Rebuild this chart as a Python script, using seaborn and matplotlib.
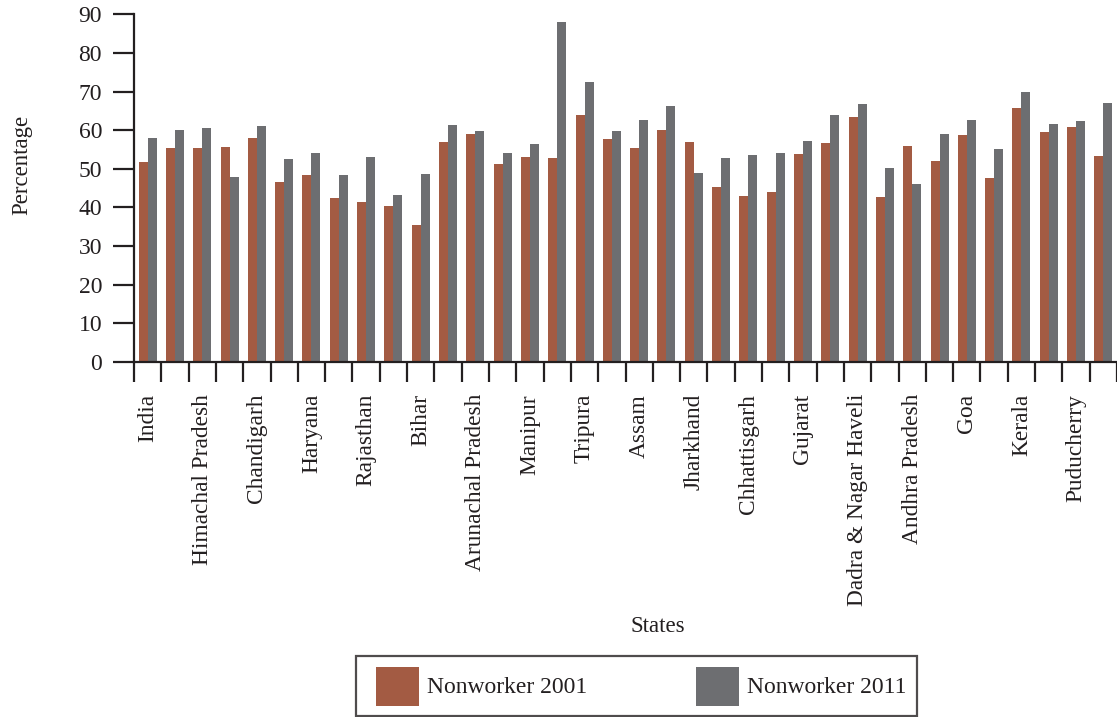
import numpy as np
import pandas as pd
import matplotlib
matplotlib.use("Agg")
import matplotlib.pyplot as plt
from matplotlib.patches import Patch, Rectangle
from matplotlib.legend_handler import HandlerPatch
import seaborn as sns

# States in census order
states = [
    "India", "Jammu & Kashmir", "Himachal Pradesh", "Punjab", "Chandigarh",
    "Uttarakhand", "Haryana", "NCT of Delhi", "Rajasthan", "Uttar Pradesh",
    "Bihar", "Sikkim", "Arunachal Pradesh", "Nagaland", "Manipur", "Mizoram",
    "Tripura", "Meghalaya", "Assam", "West Bengal", "Jharkhand", "Odisha",
    "Chhattisgarh", "Madhya Pradesh", "Gujarat", "Daman & Diu",
    "Dadra & Nagar Haveli", "Maharashtra", "Andhra Pradesh", "Karnataka",
    "Goa", "Lakshadweep", "Kerala", "Tamil Nadu", "Puducherry",
    "Andaman & Nicobar Islands",
]

# Share of non-workers in the population (%)
nonworker_2001 = [
    51.7, 55.4, 55.4, 55.6, 58.0, 46.6, 48.4, 42.4, 41.4, 40.3,
    35.4, 56.9, 59.0, 51.2, 53.0, 52.8, 63.9, 57.7, 55.4, 60.0,
    56.9, 45.3, 42.9, 44.0, 53.8, 56.7, 63.4, 42.7, 55.9, 52.0,
    58.7, 47.6, 65.7, 59.5, 60.8, 53.3,
]
nonworker_2011 = [
    58.0, 60.0, 60.5, 47.8, 61.1, 52.5, 54.1, 48.4, 53.0, 43.2,
    48.6, 61.3, 59.8, 54.1, 56.4, 88.0, 72.5, 59.8, 62.6, 66.2,
    48.9, 52.8, 53.5, 54.1, 57.2, 63.9, 66.8, 50.2, 46.0, 59.0,
    62.6, 55.1, 69.9, 61.6, 62.3, 67.0,
]

series_names = ["Nonworker 2001", "Nonworker 2011"]
y_ticks = list(range(0, 91, 10))

df = pd.DataFrame({
    "State": states * 2,
    "Percentage": nonworker_2001 + nonworker_2011,
    "Series": [series_names[0]] * len(states) + [series_names[1]] * len(states),
})

ORANGE = "#A35B43"
GREY = "#6D6E71"
INK = "#231F20"

sns.set_theme(style="white")
plt.rcParams["font.family"] = ["Liberation Serif", "DejaVu Serif"]
plt.rcParams["text.color"] = INK

W, H = 1117, 717
fig = plt.figure(figsize=(W / 100, H / 100), dpi=100)
ax = fig.add_axes([134 / W, 1 - 362 / H, (W - 134) / W, (362 - 14.3) / H])

sns.barplot(
    data=df, x="State", y="Percentage", hue="Series",
    order=states, hue_order=series_names,
    palette=[ORANGE, GREY], saturation=1, width=0.66,
    linewidth=0, edgecolor="none",
    legend=False, ax=ax,
)

ax.set_xlim(-0.5, len(states) - 0.5)
ax.set_ylim(0, 90)
ax.set_yticks(y_ticks)
ax.set_yticklabels([str(v) for v in y_ticks], fontsize=17, color=INK)

# labels under every other group, boundary ticks between groups
label_pos = list(range(0, len(states), 2))
ax.set_xticks(label_pos)
ax.set_xticklabels([states[i] for i in label_pos], rotation=90,
                   fontsize=16.8, color=INK)
ax.set_xticks(np.arange(-0.5, len(states), 1.0), minor=True)
ax.tick_params(axis="x", which="major", length=0, pad=23)
ax.tick_params(axis="x", which="minor", length=14.5, width=1.6,
               color=INK, direction="out", bottom=True)
ax.tick_params(axis="y", which="major", length=15, width=1.6,
               color=INK, direction="out", left=True, pad=8)

for side in ("top", "right"):
    ax.spines[side].set_visible(False)
for side in ("left", "bottom"):
    ax.spines[side].set_color(INK)
    ax.spines[side].set_linewidth(1.6)

ax.set_xlabel("")
ax.set_ylabel("")
fig.text(658 / W, 1 - 627 / H, "States", ha="center", va="center",
         fontsize=16.5, color=INK)
fig.text(22 / W, 1 - 165 / H, "Percentage", ha="center", va="center",
         rotation=90, fontsize=16.5, color=INK)

# legend swatches: squares inset a little inside their handle slot
SWATCH_INSET = 6.8  # points


def inset_swatch(legend, orig_handle, xdescent, ydescent, width, height, fontsize):
    return Rectangle((-xdescent + SWATCH_INSET, -ydescent),
                     width - SWATCH_INSET, height)


handles = [Patch(facecolor=ORANGE, edgecolor="none"),
           Patch(facecolor=GREY, edgecolor="none")]
leg = fig.legend(
    handles, series_names, loc="upper left", ncol=2,
    bbox_to_anchor=(356 / W, 1 - 656 / H),
    borderaxespad=0, fontsize=17, frameon=True, fancybox=False,
    handlelength=2.22, handleheight=2.16, handletextpad=0.34,
    columnspacing=4.2, borderpad=0.45,
    handler_map={Patch: HandlerPatch(patch_func=inset_swatch)},
)
leg.get_frame().set_edgecolor(INK)
leg.get_frame().set_linewidth(1.6)

fig.savefig("out.png", dpi=100, facecolor="white")
